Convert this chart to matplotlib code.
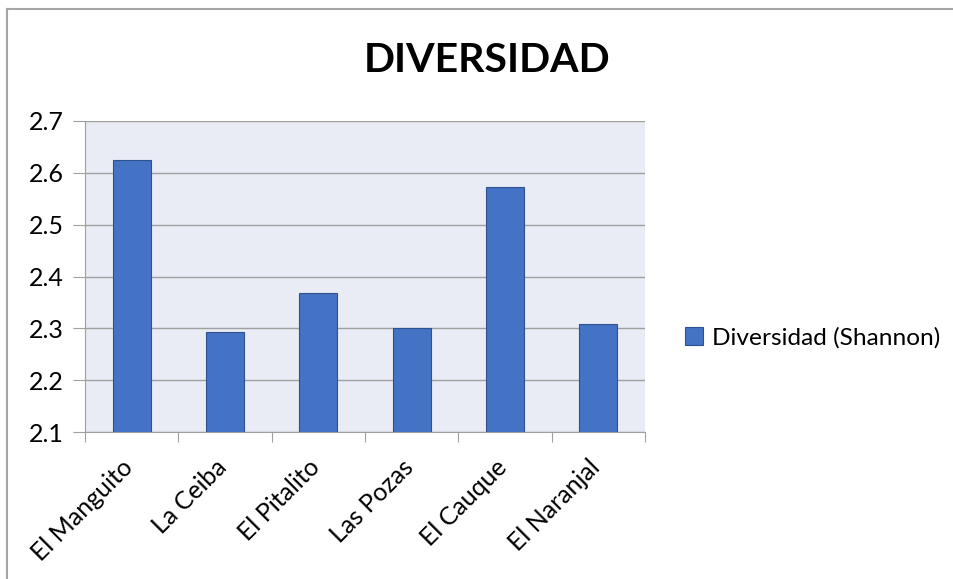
import matplotlib
matplotlib.use("Agg")
import matplotlib.pyplot as plt
import matplotlib.transforms as mtransforms
from matplotlib.lines import Line2D
from matplotlib.patches import Patch

categories = ["El Manguito", "La Ceiba", "El Pitalito", "Las Pozas", "El Cauque", "El Naranjal"]
values = [2.625, 2.292, 2.368, 2.300, 2.573, 2.309]
series_name = "Diversidad (Shannon)"
yticks = [2.1, 2.2, 2.3, 2.4, 2.5, 2.6, 2.7]

plt.rcParams['font.family'] = ['Lato', 'DejaVu Sans']

W, H = 954, 579
fig = plt.figure(figsize=(W / 100, H / 100), dpi=100)
fig.patch.set_facecolor('white')

# chart frame (top and left visible)
fig.add_artist(Line2D([7 / W, 7 / W], [0, 1 - 9 / H], transform=fig.transFigure, color='#a6a6a6', lw=1.5))
fig.add_artist(Line2D([7 / W, 1], [1 - 9 / H, 1 - 9 / H], transform=fig.transFigure, color='#a6a6a6', lw=1.5))

left, right, top, bottom = 85, 645, 121, 432
ax = fig.add_axes([left / W, 1 - bottom / H, (right - left) / W, (bottom - top) / H])
ax.set_facecolor('#e9ebf5')

x = list(range(len(categories)))
ax.bar(x, values, width=0.41, bottom=0, color='#4472c4', edgecolor='#2f528f', linewidth=0.8, zorder=3)

ax.set_ylim(2.1, 2.7)
ax.set_xlim(-0.5, len(categories) - 0.5)
ax.set_yticks(yticks)
ax.set_yticklabels([f"{v:.1f}" for v in yticks], fontsize=18)
ax.yaxis.grid(True, color='#a0a0a0', lw=1, zorder=0)
ax.tick_params(axis='y', length=9, color='#a0a0a0', pad=6)

ax.set_xticks([i - 0.5 for i in range(len(categories) + 1)])
ax.set_xticklabels([])
ax.tick_params(axis='x', length=7, color='#a0a0a0')
ax.set_xticks(x, minor=True)
ax.set_xticklabels(categories, minor=True, rotation=45, ha='right', va='top', fontsize=18)
ax.tick_params(axis='x', which='minor', length=0, pad=17)
offset = mtransforms.ScaledTranslation(6 / 100, 0, fig.dpi_scale_trans)
for lbl in ax.get_xticklabels(minor=True):
    lbl.set_transform(lbl.get_transform() + offset)

for s in ['top', 'right']:
    ax.spines[s].set_visible(False)
ax.spines['left'].set_color('#a0a0a0')
ax.spines['bottom'].set_color('#a0a0a0')

fig.text(487 / W, 1 - 61 / H, "DIVERSIDAD", ha='center', va='center',
         fontsize=29.5, fontweight='bold')

handle = Patch(facecolor='#4472c4', edgecolor='#2f528f', linewidth=0.8)
fig.legend([handle], [series_name], loc='center left', bbox_to_anchor=(663 / W, 1 - 338 / H),
           frameon=False, fontsize=17.6, handlelength=0.75, handleheight=0.75, handletextpad=0.35)

fig.savefig("out.png", dpi=100)
